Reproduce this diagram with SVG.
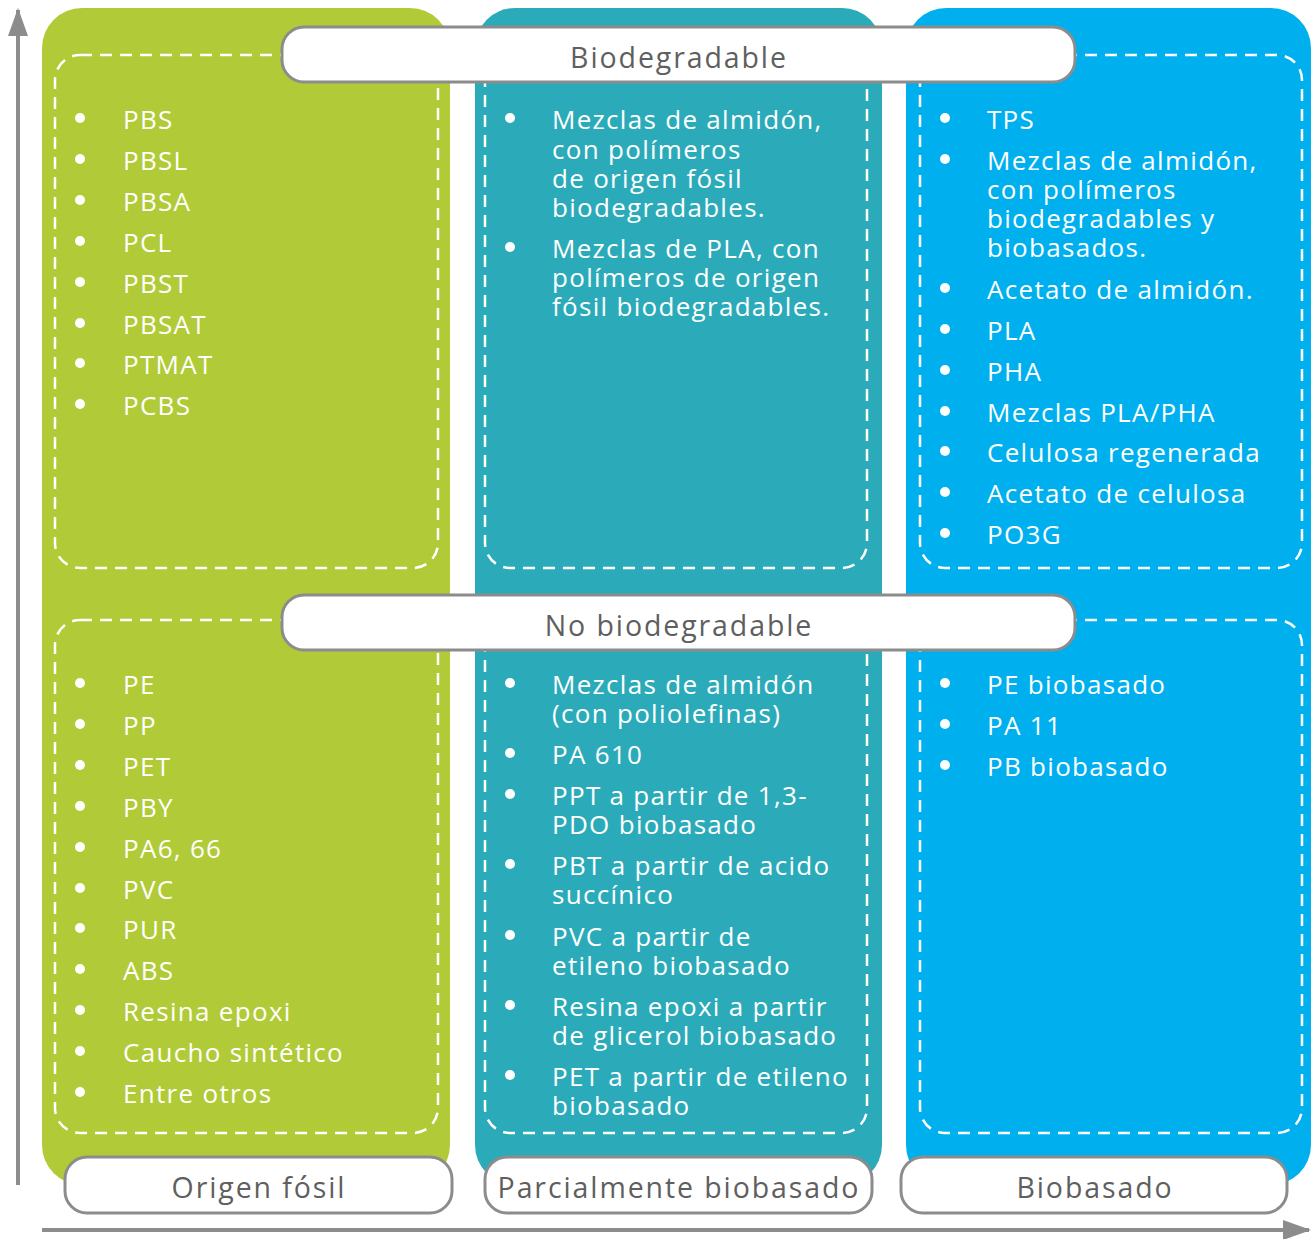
<svg xmlns="http://www.w3.org/2000/svg" width="1311" height="1239" viewBox="0 0 1311 1239">
<style>
.col{stroke:none}
.dash{fill:none;stroke:#fff;stroke-width:2.5;stroke-dasharray:12 8}
.lbl{fill:#fff;stroke:#8c8c8c;stroke-width:3}
.lt{font-family:"Open Sans","Liberation Sans",sans-serif;font-size:28.5px;letter-spacing:1.9px;fill:#5f5f5f;text-anchor:middle}
.it{font-family:"Open Sans","Liberation Sans",sans-serif;font-size:26px;letter-spacing:1.3px;fill:#fff}
.b{fill:#fff}
.ax{stroke:#8c8c8c;stroke-width:4;fill:none}
</style>
<defs>
<marker id="ah" viewBox="0 0 14 10" refX="13" refY="5" markerWidth="7" markerHeight="5" orient="auto" markerUnits="strokeWidth">
<path d="M0,0 L14,5 L0,10 Z" fill="#8c8c8c"/>
</marker>
</defs>
<g id="axes">
<line class="ax" x1="18" y1="1185" x2="18" y2="10" marker-end="url(#ah)"/>
<line class="ax" x1="42" y1="1230" x2="1309" y2="1230" marker-end="url(#ah)"/>
</g>
<g id="columns">
<rect class="col" x="42" y="8" width="408" height="1177" rx="40" fill="#b0cb37"/>
<rect class="col" x="475" y="8" width="407" height="1177" rx="40" fill="#2babb9"/>
<rect class="col" x="906" y="8" width="405" height="1177" rx="40" fill="#00b0ee"/>
</g>
<g id="dashed-boxes">
<rect class="dash" x="55" y="55" width="383" height="513" rx="25"/>
<rect class="dash" x="485" y="55" width="382" height="513" rx="25"/>
<rect class="dash" x="920" y="55" width="382" height="513" rx="25"/>
<rect class="dash" x="55" y="620" width="383" height="513" rx="25"/>
<rect class="dash" x="485" y="620" width="382" height="513" rx="25"/>
<rect class="dash" x="920" y="620" width="382" height="513" rx="25"/>
</g>
<g id="fossil-bio">
<circle class="b" cx="80" cy="118" r="5"/><text class="it" x="123" y="129">PBS</text>
<circle class="b" cx="80" cy="159" r="5"/><text class="it" x="123" y="170">PBSL</text>
<circle class="b" cx="80" cy="200" r="5"/><text class="it" x="123" y="211">PBSA</text>
<circle class="b" cx="80" cy="241" r="5"/><text class="it" x="123" y="252">PCL</text>
<circle class="b" cx="80" cy="282" r="5"/><text class="it" x="123" y="293">PBST</text>
<circle class="b" cx="80" cy="323" r="5"/><text class="it" x="123" y="334">PBSAT</text>
<circle class="b" cx="80" cy="363" r="5"/><text class="it" x="123" y="374">PTMAT</text>
<circle class="b" cx="80" cy="404" r="5"/><text class="it" x="123" y="415">PCBS</text>
</g>
<g id="fossil-nonbio">
<circle class="b" cx="80" cy="683" r="5"/><text class="it" x="123" y="694">PE</text>
<circle class="b" cx="80" cy="724" r="5"/><text class="it" x="123" y="735">PP</text>
<circle class="b" cx="80" cy="765" r="5"/><text class="it" x="123" y="776">PET</text>
<circle class="b" cx="80" cy="806" r="5"/><text class="it" x="123" y="817">PBY</text>
<circle class="b" cx="80" cy="847" r="5"/><text class="it" x="123" y="858">PA6, 66</text>
<circle class="b" cx="80" cy="888" r="5"/><text class="it" x="123" y="899">PVC</text>
<circle class="b" cx="80" cy="928" r="5"/><text class="it" x="123" y="939">PUR</text>
<circle class="b" cx="80" cy="969" r="5"/><text class="it" x="123" y="980">ABS</text>
<circle class="b" cx="80" cy="1010" r="5"/><text class="it" x="123" y="1021">Resina epoxi</text>
<circle class="b" cx="80" cy="1051" r="5"/><text class="it" x="123" y="1062">Caucho sintético</text>
<circle class="b" cx="80" cy="1092" r="5"/><text class="it" x="123" y="1103">Entre otros</text>
</g>
<g id="partial-bio">
<circle class="b" cx="510" cy="118" r="5"/>
<text class="it" x="552" y="129">Mezclas de almidón,<tspan x="552" y="159">con polímeros</tspan><tspan x="552" y="188">de origen fósil</tspan><tspan x="552" y="217">biodegradables.</tspan></text>
<circle class="b" cx="510" cy="247" r="5"/>
<text class="it" x="552" y="258">Mezclas de PLA, con<tspan x="552" y="287">polímeros de origen</tspan><tspan x="552" y="316">fósil biodegradables.</tspan></text>
</g>
<g id="partial-nonbio">
<circle class="b" cx="510" cy="683" r="5"/>
<text class="it" x="552" y="694">Mezclas de almidón<tspan x="552" y="723">(con poliolefinas)</tspan></text>
<circle class="b" cx="510" cy="753" r="5"/>
<text class="it" x="552" y="764">PA 610</text>
<circle class="b" cx="510" cy="794" r="5"/>
<text class="it" x="552" y="805">PPT a partir de 1,3-<tspan x="552" y="834">PDO biobasado</tspan></text>
<circle class="b" cx="510" cy="864" r="5"/>
<text class="it" x="552" y="875">PBT a partir de acido<tspan x="552" y="904">succínico</tspan></text>
<circle class="b" cx="510" cy="935" r="5"/>
<text class="it" x="552" y="946">PVC a partir de<tspan x="552" y="975">etileno biobasado</tspan></text>
<circle class="b" cx="510" cy="1005" r="5"/>
<text class="it" x="552" y="1016">Resina epoxi a partir<tspan x="552" y="1045">de glicerol biobasado</tspan></text>
<circle class="b" cx="510" cy="1075" r="5"/>
<text class="it" x="552" y="1086">PET a partir de etileno<tspan x="552" y="1115">biobasado</tspan></text>
</g>
<g id="biobased-bio">
<circle class="b" cx="945" cy="118" r="5"/><text class="it" x="987" y="129">TPS</text>
<circle class="b" cx="945" cy="159" r="5"/>
<text class="it" x="987" y="170">Mezclas de almidón,<tspan x="987" y="199">con polímeros</tspan><tspan x="987" y="228">biodegradables y</tspan><tspan x="987" y="257">biobasados.</tspan></text>
<circle class="b" cx="945" cy="288" r="5"/><text class="it" x="987" y="299">Acetato de almidón.</text>
<circle class="b" cx="945" cy="329" r="5"/><text class="it" x="987" y="340">PLA</text>
<circle class="b" cx="945" cy="370" r="5"/><text class="it" x="987" y="381">PHA</text>
<circle class="b" cx="945" cy="411" r="5"/><text class="it" x="987" y="422">Mezclas PLA/PHA</text>
<circle class="b" cx="945" cy="451" r="5"/><text class="it" x="987" y="462">Celulosa regenerada</text>
<circle class="b" cx="945" cy="492" r="5"/><text class="it" x="987" y="503">Acetato de celulosa</text>
<circle class="b" cx="945" cy="533" r="5"/><text class="it" x="987" y="544">PO3G</text>
</g>
<g id="biobased-nonbio">
<circle class="b" cx="945" cy="683" r="5"/><text class="it" x="987" y="694">PE biobasado</text>
<circle class="b" cx="945" cy="724" r="5"/><text class="it" x="987" y="735">PA 11</text>
<circle class="b" cx="945" cy="765" r="5"/><text class="it" x="987" y="776">PB biobasado</text>
</g>
<g id="label-biodegradable">
<rect class="lbl" x="282" y="27" width="793" height="55" rx="22"/>
<text class="lt" x="679" y="68">Biodegradable</text>
</g>
<g id="label-nobiodegradable">
<rect class="lbl" x="282" y="595" width="793" height="55" rx="22"/>
<text class="lt" x="679" y="636">No biodegradable</text>
</g>
<g id="label-fosil">
<rect class="lbl" x="65" y="1157" width="387" height="56" rx="22"/>
<text class="lt" x="259" y="1198">Origen fósil</text>
</g>
<g id="label-parcial">
<rect class="lbl" x="485" y="1157" width="387" height="56" rx="22"/>
<text class="lt" x="679" y="1198">Parcialmente biobasado</text>
</g>
<g id="label-biobasado">
<rect class="lbl" x="901" y="1157" width="386" height="56" rx="22"/>
<text class="lt" x="1095" y="1198">Biobasado</text>
</g>
</svg>
